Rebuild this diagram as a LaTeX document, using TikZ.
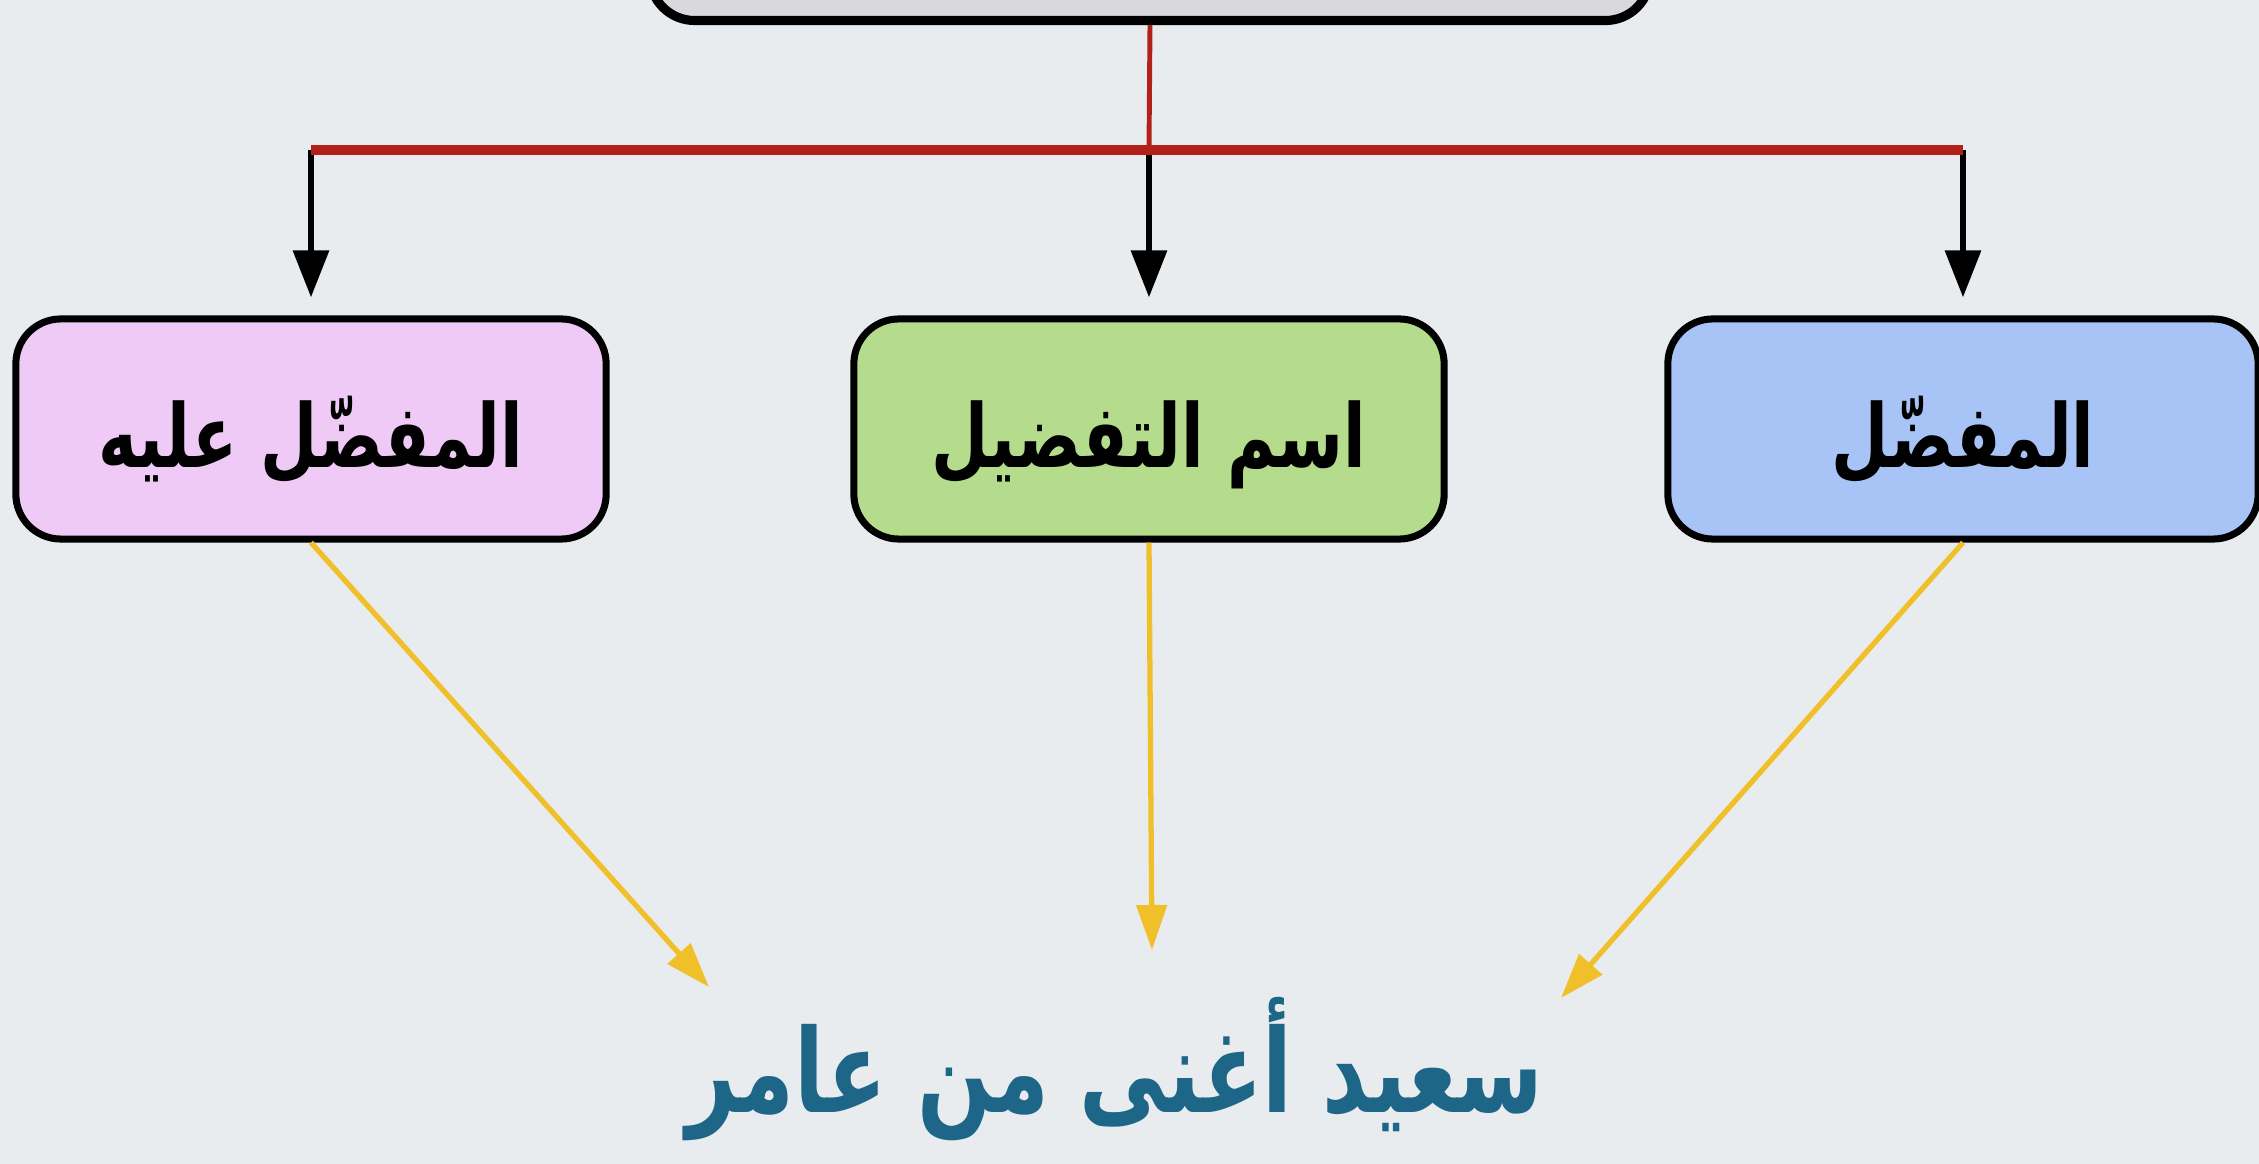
\documentclass[tikz,border=0pt]{standalone}
\usepackage{fontspec}
\newfontfamily\arabicfont[Script=Arabic,FakeStretch=0.75]{DejaVu Sans}
\TeXXeTstate=1
\usetikzlibrary{arrows.meta}
\definecolor{slide}{HTML}{E9ECEE}
\definecolor{rootfill}{HTML}{D9D9DD}
\definecolor{pinkbox}{HTML}{EFCAF7}
\definecolor{greenbox}{HTML}{B4DC8C}
\definecolor{bluebox}{HTML}{A8C4F6}
\definecolor{forkred}{HTML}{B3201A}
\definecolor{hintyellow}{HTML}{F0C02A}
\definecolor{teal}{HTML}{1E6688}
\begin{document}
\begin{tikzpicture}[
			x=0.01cm, y=-0.01cm,
			box/.style={draw=black, line width=2pt, rounded corners=0.45cm,
				minimum width=5.9cm, minimum height=2.2cm,
				text height=30pt, text depth=8pt,
				font=\arabicfont\bfseries\fontsize{25}{30}\selectfont},
			fork/.style={draw=forkred, line width=2.8pt},
			down/.style={-{Triangle[length=0.47cm,width=0.35cm]}, line width=1.8pt, shorten >=0.18cm},
			hint/.style={draw=hintyellow, -{Triangle[length=0.45cm,width=0.3cm]}, line width=1.5pt}
		]
		\useasboundingbox (0,0) rectangle (2259,1164);
		\clip (0,0) rectangle (2259,1164);
		\fill[slide] (0,0) rectangle (2259,1164);
		\node[box, fill=rootfill, line width=2.6pt, minimum width=10cm, minimum height=1.4cm] (root) at (1150,-58) {};
		\node[box, fill=pinkbox] (alayh) at (311,429) {\beginR المفضّل عليه\endR};
		\node[box, fill=greenbox] (ism) at (1149,429) {\beginR اسم التفضيل\endR};
		\node[box, fill=bluebox] (mufaddal) at (1963,429) {\beginR المفضّل\endR};
		\node[text=teal, anchor=base, font=\arabicfont\bfseries\fontsize{33}{40}\selectfont] (jumla) at (1115,1113) {\beginR سعيد أغنى من عامر\endR};
		\coordinate (forkL) at (311,150);
		\coordinate (forkM) at (1149,150);
		\coordinate (forkR) at (1963,150);
		\coordinate (tipL) at (709,987);
		\coordinate (tipM) at (1152,950);
		\coordinate (tipR) at (1561,998);
		\draw[down] (forkL) -- (alayh.north);
		\draw[down] (forkM) -- (ism.north);
		\draw[down] (forkR) -- (mufaddal.north);
		\draw[fork, line width=1.4pt] (root.south) -- (forkM);
		\draw[fork] (forkL) -- (forkR);
		\draw[hint] (alayh.south) -- (tipL);
		\draw[hint] (ism.south) -- (tipM);
		\draw[hint] (mufaddal.south) -- (tipR);
	\end{tikzpicture}
\end{document}
